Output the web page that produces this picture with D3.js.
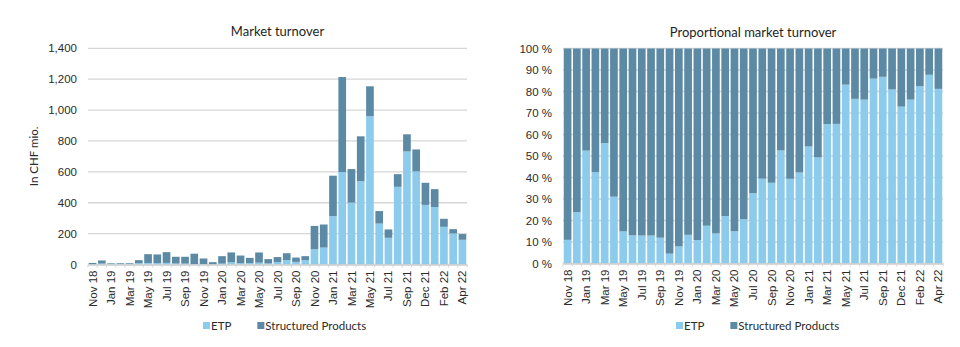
<!DOCTYPE html>
<html>
<head>
<meta charset="utf-8">
<script src="https://cdn.jsdelivr.net/npm/d3@7.9.0/dist/d3.min.js"></script>
<style>
  body { margin: 0; background: #fff; }
  svg { font-family: Lato, "Open Sans", sans-serif; }
</style>
</head>
<body>
<svg width="960" height="347"></svg>
<script>
// months shown (one month is skipped between Sep 21 and Dec 21 in the source)
const months = ["Nov 18","Dec 18","Jan 19","Feb 19","Mar 19","Apr 19","May 19","Jun 19","Jul 19","Aug 19",
  "Sep 19","Oct 19","Nov 19","Dec 19","Jan 20","Feb 20","Mar 20","Apr 20","May 20","Jun 20",
  "Jul 20","Aug 20","Sep 20","Oct 20","Nov 20","Dec 20","Jan 21","Feb 21","Mar 21","Apr 21",
  "May 21","Jun 21","Jul 21","Aug 21","Sep 21","Nov 21","Dec 21","Jan 22","Feb 22","Mar 22","Apr 22"];

// CHF mio.
const etp = [1.1,6.2,4.2,3.4,5.6,8.7,10,8.5,10.4,6.5,
  6,3.2,3.1,2,5.9,13.7,8.1,9.5,11.7,7.2,
  15.7,28.8,16.9,28.4,98.5,109.6,313,599,401,539,
  960,265,173,503,732,603,386,372,244,201,160];
const structured = [8.9,19.8,3.8,4.6,4.4,19.3,57,56.5,69.6,43.5,
  44,66.8,35.9,13,48.1,64.3,49.9,33.5,66.3,27.8,
  32.3,44.2,28.1,25.6,151.5,149.4,262,615,217,291,
  194,81,54,82,111,142,143,116,52,28,37];

const absTicks = [0,200,400,600,800,1000,1200,1400];
const pctTicks = [0,0.1,0.2,0.3,0.4,0.5,0.6,0.7,0.8,0.9,1];

const colors = {etp: "#8dcbed", structured: "#5c8aa5"};
const names = {etp: "ETP", structured: "Structured Products"};

const rows = months.map((m, i) => ({month: m, etp: etp[i], structured: structured[i]}));
const keys = ["etp", "structured"];

const svg = d3.select("svg");

function drawPanel(opts) {
  const {left, right, top, bottom, stackData, yMax, ticks, fmt, title, yLabel, legendX} = opts;

  const x = d3.scaleBand().domain(months).range([left, right]).paddingInner(0.17).paddingOuter(0.08);
  const y = d3.scaleLinear().domain([0, yMax]).range([bottom, top]);
  const g = svg.append("g");

  // gridlines
  g.selectAll(".grid").data(ticks).join("line")
    .attr("x1", left).attr("x2", right)
    .attr("y1", d => y(d)).attr("y2", d => y(d))
    .attr("stroke", "#d6d6d6").attr("stroke-width", 1.3);

  const yAxis = g.append("g")
    .attr("transform", `translate(${left - 8},0)`)
    .call(d3.axisLeft(y).tickValues(ticks).tickFormat(fmt).tickSize(0));
  yAxis.select(".domain").remove();
  yAxis.selectAll("text").attr("font-size", 11.5).attr("fill", "#2b2b2b");

  // bars
  g.selectAll(".layer").data(stackData).join("g")
    .attr("fill", d => colors[d.key])
    .selectAll("rect").data(d => d).join("rect")
      .attr("x", d => x(d.data.month))
      .attr("width", x.bandwidth())
      .attr("y", d => y(d[1]))
      .attr("height", d => y(d[0]) - y(d[1]));

  // x axis, every second month labelled
  const xAxis = g.append("g")
    .attr("transform", `translate(0,${bottom})`)
    .call(d3.axisBottom(x).tickValues(months.filter((m, i) => i % 2 === 0)).tickSize(0));
  xAxis.select(".domain").attr("stroke", "#cfcfcf").attr("stroke-width", 1.3);
  xAxis.selectAll("text")
    .attr("font-size", 11.5).attr("fill", "#2b2b2b")
    .attr("transform", "rotate(-90)")
    .attr("text-anchor", "end")
    .attr("x", -6).attr("y", 0).attr("dy", "0.35em");

  // little ticks between bars
  const step = x.step();
  g.selectAll(".xt").data(d3.range(months.length + 1)).join("line")
    .attr("x1", i => left + x.paddingOuter() * step + i * step - (x.paddingInner() * step) / 2)
    .attr("x2", i => left + x.paddingOuter() * step + i * step - (x.paddingInner() * step) / 2)
    .attr("y1", bottom).attr("y2", bottom + 3)
    .attr("stroke", "#d6d6d6");

  g.append("text")
    .attr("x", (left + right) / 2).attr("y", top - 12)
    .attr("text-anchor", "middle").attr("font-size", 13).attr("fill", "#1e1e1e")
    .text(title);

  if (yLabel) {
    g.append("text")
      .attr("transform", `translate(${left - 50},${(top + bottom) / 2}) rotate(-90)`)
      .attr("text-anchor", "middle").attr("font-size", 11.5).attr("fill", "#2b2b2b")
      .text(yLabel);
  }

  // legend
  const lg = g.append("g").attr("transform", `translate(${legendX},326)`);
  let lx = 0;
  keys.forEach(k => {
    lg.append("rect").attr("x", lx).attr("y", -4).attr("width", 7).attr("height", 7).attr("fill", colors[k]);
    const t = lg.append("text").attr("x", lx + 8).attr("y", 0).attr("dy", "0.35em")
      .attr("font-size", 11.5).attr("fill", "#2b2b2b").text(names[k]);
    lx += t.node().getComputedTextLength() + 8 + 26;
  });
}

drawPanel({
  left: 88, right: 467, top: 48.3, bottom: 264.5,
  stackData: d3.stack().keys(keys)(rows),
  yMax: 1400, ticks: absTicks, fmt: d3.format(","),
  title: "Market turnover", yLabel: "In CHF mio.", legendX: 203
});

drawPanel({
  left: 563, right: 943, top: 48.5, bottom: 263.5,
  stackData: d3.stack().keys(keys).offset(d3.stackOffsetExpand)(rows),
  yMax: 1, ticks: pctTicks, fmt: d => Math.round(d * 100) + " %",
  title: "Proportional market turnover", yLabel: null, legendX: 676
});
</script>
</body>
</html>
